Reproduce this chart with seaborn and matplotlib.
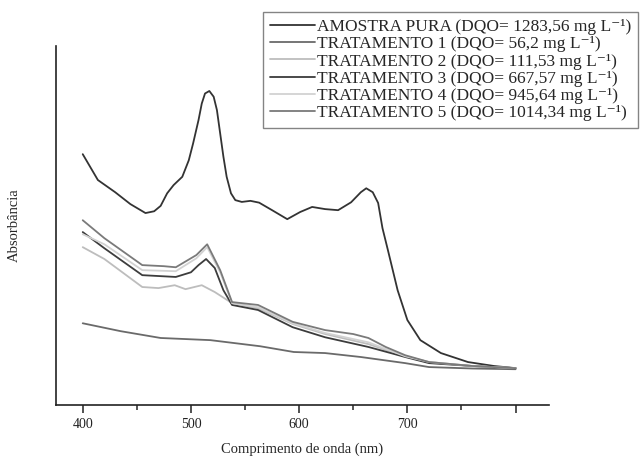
import matplotlib
matplotlib.use('Agg')
import matplotlib.pyplot as plt
import seaborn as sns

# absorbance spectra (arbitrary absorbance units)
wl_pura = [400, 414, 430, 444, 458, 466, 472, 478, 484, 492, 498, 502, 507, 510, 513,
           517, 521, 524, 527, 530, 533, 537, 541, 547, 555, 563, 575, 589, 601, 612,
           624, 636, 648, 657, 662, 668, 673, 677, 682, 691, 700, 712, 731, 756, 780, 800]
abs_pura = [0.699, 0.627, 0.593, 0.560, 0.535, 0.540, 0.555, 0.590, 0.613, 0.636, 0.682,
            0.729, 0.794, 0.840, 0.868, 0.875, 0.859, 0.822, 0.757, 0.692, 0.636, 0.590,
            0.571, 0.566, 0.569, 0.564, 0.543, 0.518, 0.538, 0.552, 0.546, 0.543, 0.565,
            0.593, 0.604, 0.593, 0.563, 0.493, 0.432, 0.320, 0.237, 0.181, 0.145, 0.120,
            0.109, 0.103]

wl_t1 = [400, 435, 472, 518, 564, 595, 624, 657, 698, 720, 760, 800]
abs_t1 = [0.228, 0.206, 0.187, 0.181, 0.164, 0.148, 0.145, 0.134, 0.117, 0.106, 0.102, 0.100]

wl_t2 = [400, 420, 455, 470, 485, 495, 510, 522, 538, 562, 594, 624, 664, 698, 720, 760, 800]
abs_t2 = [0.440, 0.407, 0.329, 0.326, 0.334, 0.323, 0.334, 0.315, 0.284, 0.270, 0.226,
          0.198, 0.170, 0.136, 0.120, 0.109, 0.103]

wl_t3 = [400, 420, 455, 486, 500, 507, 514, 522, 530, 538, 562, 594, 624, 664, 698, 720, 760, 800]
abs_t3 = [0.482, 0.437, 0.362, 0.357, 0.370, 0.390, 0.407, 0.382, 0.320, 0.279, 0.265,
          0.217, 0.189, 0.162, 0.134, 0.117, 0.109, 0.103]

wl_t4 = [400, 420, 455, 486, 505, 515, 527, 538, 562, 594, 624, 664, 698, 720, 760, 800]
abs_t4 = [0.476, 0.448, 0.376, 0.373, 0.409, 0.440, 0.370, 0.284, 0.273, 0.228, 0.201,
          0.175, 0.136, 0.120, 0.109, 0.103]

wl_t5 = [400, 420, 455, 475, 486, 505, 515, 527, 538, 562, 594, 624, 650, 664, 680, 698, 720, 760, 800]
abs_t5 = [0.515, 0.465, 0.390, 0.387, 0.384, 0.418, 0.448, 0.376, 0.287, 0.279, 0.232,
          0.209, 0.198, 0.187, 0.162, 0.139, 0.120, 0.109, 0.103]

labels = ['AMOSTRA PURA (DQO= 1283,56 mg L⁻¹)',
          'TRATAMENTO 1 (DQO= 56,2 mg L⁻¹)',
          'TRATAMENTO 2 (DQO= 111,53 mg L⁻¹)',
          'TRATAMENTO 3 (DQO= 667,57 mg L⁻¹)',
          'TRATAMENTO 4 (DQO= 945,64 mg L⁻¹)',
          'TRATAMENTO 5 (DQO= 1014,34 mg L⁻¹)']
colors = ['#333333', '#6a6a6a', '#bdbdbd', '#3c3c3c', '#d2d2d2', '#7a7a7a']

sns.set_style('ticks')
plt.rcParams['font.family'] = ['Liberation Serif', 'DejaVu Serif']

fig = plt.figure(figsize=(6.4, 4.63), dpi=100)
ax = fig.add_axes([0.087, 0.125, 0.771, 0.7754])

series = [(wl_pura, abs_pura), (wl_t1, abs_t1), (wl_t2, abs_t2),
          (wl_t3, abs_t3), (wl_t4, abs_t4), (wl_t5, abs_t5)]
for (x, y), lab, c in zip(series, labels, colors):
    sns.lineplot(x=x, y=y, ax=ax, color=c, label=lab, linewidth=1.3)

ax.set_xlim(375, 831)
ax.set_ylim(0, 1.0)
ax.set_xticks([400, 500, 600, 700, 800])
ax.set_xticklabels(['400', '500', '600', '700', ''])
ax.set_xticks([450, 550, 650, 750], minor=True)
ax.set_yticks([])
ax.tick_params(axis='x', which='major', length=6, width=1.1, direction='out',
               labelsize=10, colors='#222222')
ax.tick_params(axis='x', which='minor', length=3.5, width=1.1, direction='out')
for s in ['top', 'right']:
    ax.spines[s].set_visible(False)
for s in ['left', 'bottom']:
    ax.spines[s].set_linewidth(1.2)
    ax.spines[s].set_color('#222222')

ax.set_xlabel('Comprimento de onda (nm)', fontsize=10.5, labelpad=8)
ax.set_ylabel('Absorbância', fontsize=10.5, labelpad=25)

leg = ax.legend(loc='upper right', bbox_to_anchor=(0.997, 0.974),
                bbox_transform=fig.transFigure, borderaxespad=0,
                fontsize=12.5, frameon=True, fancybox=False, edgecolor='#666666',
                handlelength=2.6, handletextpad=0.1, labelspacing=0.06,
                borderpad=0.4)
leg.get_frame().set_linewidth(1.0)

fig.savefig('out.png', dpi=100)
plt.close(fig)
